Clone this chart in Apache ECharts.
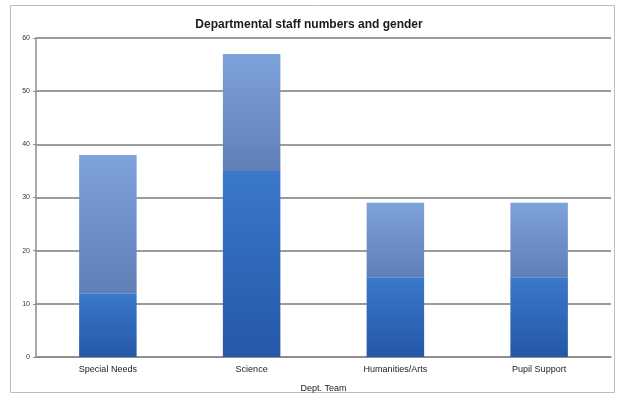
<!DOCTYPE html>
<html>
<head>
<meta charset="utf-8">
<script src="https://cdn.jsdelivr.net/npm/echarts@6/dist/echarts.min.js"></script>
<style>
  html, body { margin: 0; padding: 0; background: #ffffff; }
  #chart { width: 618px; height: 396px; }
</style>
</head>
<body>
<div id="chart"></div>
<script>
// Staff counts per department, split by gender (stacked)
const departments = ['Special Needs', 'Science', 'Humanities/Arts', 'Pupil Support'];
const female = [12, 35, 15, 15];
const male = [26, 22, 14, 14];
const yTicks = { min: 0, max: 60, interval: 10 };

const chart = echarts.init(document.getElementById('chart'));

const grad = (top, bottom) => new echarts.graphic.LinearGradient(0, 0, 0, 1, [
  { offset: 0, color: top },
  { offset: 1, color: bottom }
]);

chart.setOption({
  animation: false,
  backgroundColor: '#ffffff',
  title: {
    text: 'Departmental staff numbers and gender',
    left: 'center',
    top: 14,
    textStyle: { fontFamily: 'Liberation Sans', fontSize: 12, fontWeight: 'bold', color: '#1a1a1a' }
  },
  graphic: [{
    type: 'rect',
    shape: { x: 10.5, y: 5.5, width: 604, height: 387 },
    style: { fill: 'none', stroke: '#bdbdbd', lineWidth: 1 },
    silent: true,
    z: -1
  }],
  grid: { left: 36, right: 7, top: 38, bottom: 39, outerBoundsMode: 'none', containLabel: false },
  xAxis: {
    type: 'category',
    data: departments,
    name: 'Dept. Team',
    nameLocation: 'middle',
    nameGap: 27,
    nameTextStyle: { fontFamily: 'Liberation Sans', fontSize: 9, color: '#222' },
    axisLine: { lineStyle: { color: '#8c8c8c', width: 1.5 } },
    axisTick: { show: false },
    axisLabel: { fontFamily: 'Liberation Sans', fontSize: 9, color: '#222', margin: 8 }
  },
  yAxis: {
    type: 'value',
    min: yTicks.min,
    max: yTicks.max,
    interval: yTicks.interval,
    axisLine: { show: true, lineStyle: { color: '#8c8c8c', width: 1.5 } },
    axisTick: { show: true, length: 3, lineStyle: { color: '#8c8c8c' } },
    axisLabel: { fontFamily: 'Liberation Sans', fontSize: 7, color: '#333', margin: 6 },
    splitLine: { lineStyle: { color: '#7a7a7a', width: 1.5 } }
  },
  series: [
    {
      name: 'Female',
      type: 'bar',
      stack: 'staff',
      barWidth: '40%',
      data: female,
      itemStyle: { color: grad('#3a78cc', '#2558a6') }
    },
    {
      name: 'Male',
      type: 'bar',
      stack: 'staff',
      data: male,
      itemStyle: { color: grad('#7ea2dc', '#5f7fb6') }
    }
  ]
});
</script>
</body>
</html>
